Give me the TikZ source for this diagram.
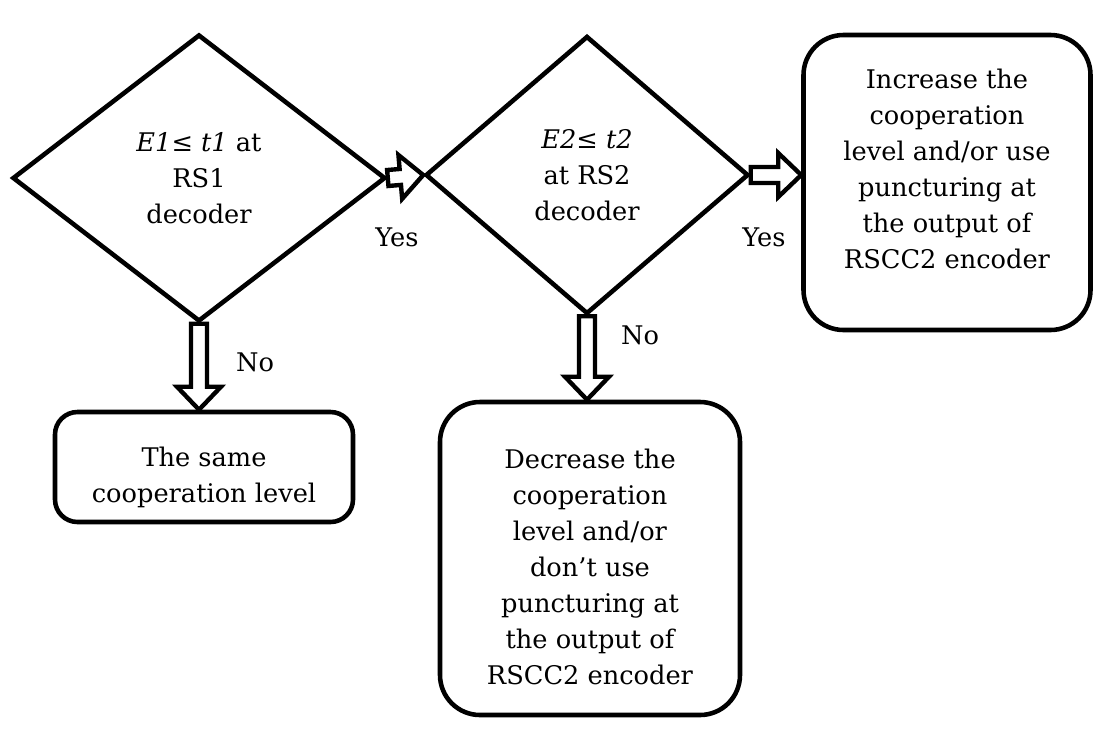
\documentclass[tikz,border=0pt]{standalone}
\usepackage{fontspec}
\setmainfont{DejaVu Serif}
\usepackage{tikz}
\usetikzlibrary{shapes.geometric}
\usetikzlibrary{calc}

\tikzset{
  every node/.style={font=\fontsize{14.6}{20.5}\selectfont},
  decision/.style={draw, diamond, line width=2.6pt, align=center, inner sep=0pt},
  outcome/.style={draw, rectangle, rounded corners=0.8cm, line width=2.6pt, align=center},
  boxtext/.style={align=center},
  hollow/.style={line width=2.5pt, to path={
    ($(\tikztotarget)!0.46cm!(\tikztostart)$) coordinate (hh)
    ($(\tikztostart)!0.16cm!90:(\tikztotarget)$)
    -- ($(hh)!0.16cm!-90:(\tikztostart)$)
    -- ($(hh)!0.44cm!-90:(\tikztostart)$)
    -- (\tikztotarget)
    -- ($(hh)!0.44cm!90:(\tikztostart)$)
    -- ($(hh)!0.16cm!90:(\tikztostart)$)
    -- ($(\tikztostart)!0.16cm!-90:(\tikztotarget)$)
    -- cycle}}
}

\begin{document}
\begin{tikzpicture}
\useasboundingbox (0,0) rectangle (22.08,-14.94);

\node[decision, 
   minimum width=7.46cm, 
   minimum height=5.74cm] (d1) at (3.98,-3.56) 
  {\textit{E1}≤ \textit{t1} at\\ RS1\\ decoder};
\node[decision, 
   minimum width=6.46cm, 
   minimum height=5.56cm] (d2) at (11.74,-3.5) 
  {\textit{E2}≤ \textit{t2}\\ at RS2\\ decoder};

\node[outcome, 
   minimum width=5.74cm, 
   minimum height=5.9cm,
   label={[boxtext, yshift=0.28cm]center:Increase the\\ cooperation\\ level and/or use\\ puncturing at\\ the output of\\ RSCC2 encoder}] 
   (inc) at (18.94,-3.65) {};
\node[outcome, 
   rounded corners=0.45cm, 
   minimum width=5.96cm, 
   minimum height=2.2cm,
   label={[boxtext, yshift=-0.2cm]center:The same\\ cooperation level}] 
   (same) at (4.08,-9.34) {};
\node[outcome, 
   minimum width=6.0cm, 
   minimum height=6.26cm,
   label={[boxtext, yshift=-0.16cm]center:Decrease the\\ cooperation\\ level and/or\\ don’t use\\ puncturing at\\ the output of\\ RSCC2 encoder}] 
   (dec) at (11.8,-11.17) {};

\draw[hollow] (d1.east) to (d2.west);
\draw[hollow] (d2.east) to (inc.west |- d2.east);
\draw[hollow] (d1.south) to (d1.south |- same.north);
\draw[hollow] (d2.south) to (d2.south |- dec.north);

\node (yes1) at (7.94,-4.74) {Yes};
\node (yes2) at (15.28,-4.74) {Yes};
\node (no1) at (5.1,-7.24) {No};
\node (no2) at (12.8,-6.7) {No};
\end{tikzpicture}
\end{document}
